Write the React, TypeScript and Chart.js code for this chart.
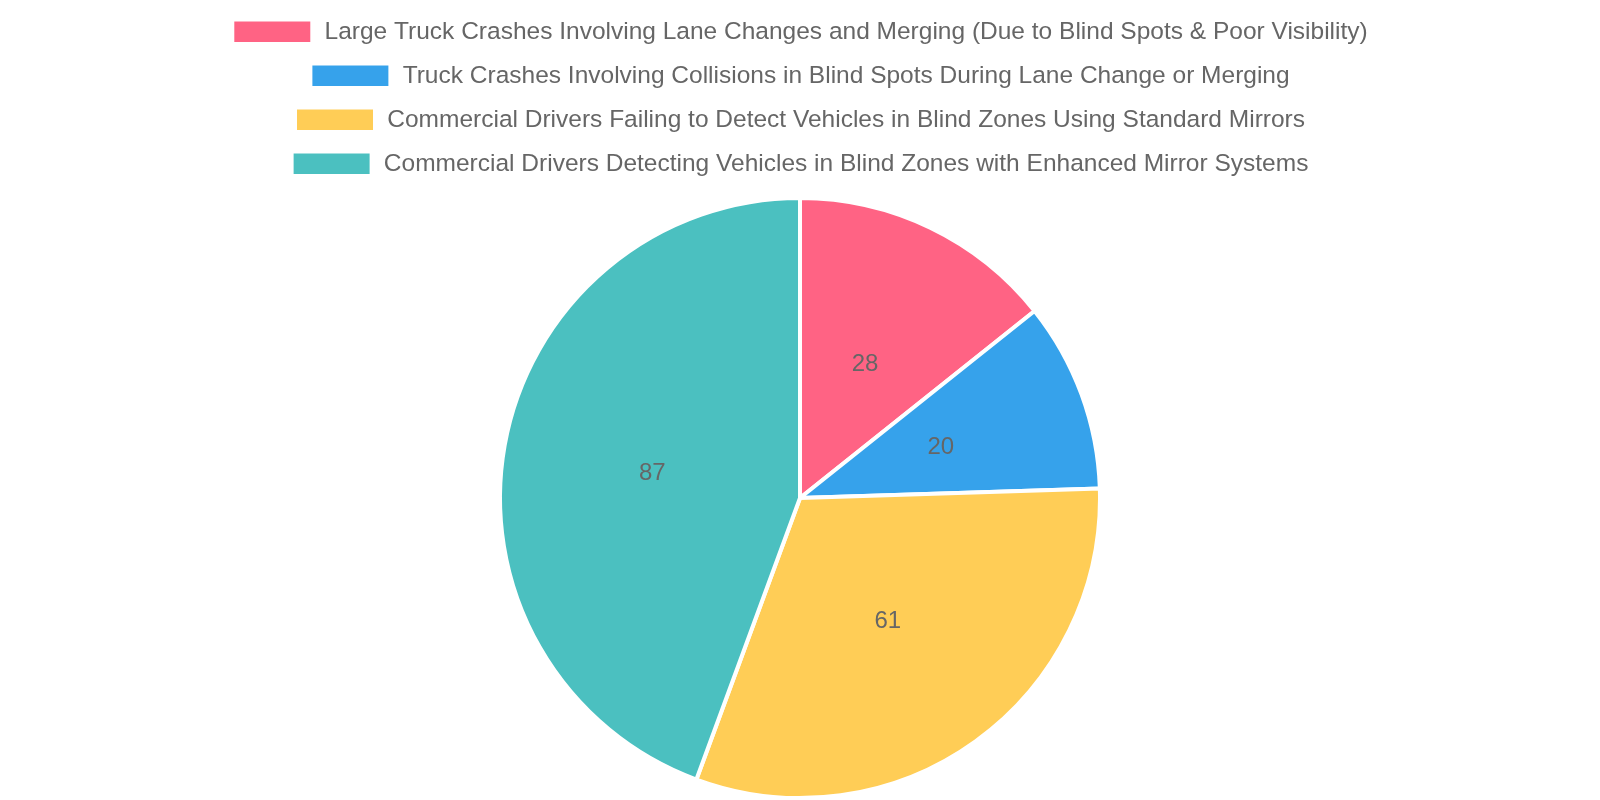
// ── Blind spot crash pie ─────────────────────────────────────

import { useEffect, useRef } from "react"
import Chart from "chart.js/auto"

const LABELS = [
  "Large Truck Crashes Involving Lane Changes and Merging (Due to Blind Spots & Poor Visibility)",
  "Truck Crashes Involving Collisions in Blind Spots During Lane Change or Merging",
  "Commercial Drivers Failing to Detect Vehicles in Blind Zones Using Standard Mirrors",
  "Commercial Drivers Detecting Vehicles in Blind Zones with Enhanced Mirror Systems",
]
const VALUES = [28, 20, 61, 87]
const COLORS = [
  "rgb(255, 99, 132)",
  "rgb(54, 162, 235)",
  "rgb(255, 205, 86)",
  "rgb(75, 192, 192)",
]

const TEXT_SEC = "#666"
const FONT = "'Helvetica Neue', 'Helvetica', 'Arial', sans-serif"

// pushes the pie a bit further away from the legend
const legendGap = {
  id: "legendGap",
  beforeInit(chart: any) {
    const fit = chart.legend.fit
    chart.legend.fit = function () {
      fit.bind(chart.legend)()
      this.height += 10
    }
  },
}

// value written in the middle of each slice
const sliceValues = {
  id: "sliceValues",
  afterDatasetsDraw(chart: any) {
    const { ctx } = chart
    const meta = chart.getDatasetMeta(0)
    ctx.save()
    ctx.font = `24px ${FONT}`
    ctx.fillStyle = TEXT_SEC
    ctx.textAlign = "center"
    ctx.textBaseline = "middle"
    meta.data.forEach((arc: any, i: number) => {
      const p = arc.tooltipPosition()
      ctx.fillText(String(chart.data.datasets[0].data[i]), p.x, p.y + 1.5)
    })
    ctx.restore()
  },
}

export default function App() {
  const ref = useRef<HTMLCanvasElement>(null)

  useEffect(() => {
    if (!ref.current) return

    const chart = new Chart(ref.current, {
      type: "pie",
      data: {
        labels: LABELS,
        datasets: [{
          data: VALUES,
          backgroundColor: COLORS,
          borderColor: "#fff",
          borderWidth: 4,
          hoverOffset: 4,
        }],
      },
      options: {
        responsive: true,
        maintainAspectRatio: false,
        animation: false,
        plugins: {
          legend: {
            position: "top",
            labels: {
              color: TEXT_SEC,
              font: { family: FONT, size: 24.5 },
              boxWidth: 80,
              padding: 19.5,
            },
          },
          tooltip: { enabled: false },
        },
      },
      plugins: [legendGap, sliceValues],
    })

    return () => chart.destroy()
  }, [])

  return (
    <div style={{ position: "fixed", left: 0, top: 0, width: "1600px", height: "800px", background: "#fff" }}>
      <canvas ref={ref} />
    </div>
  )
}
